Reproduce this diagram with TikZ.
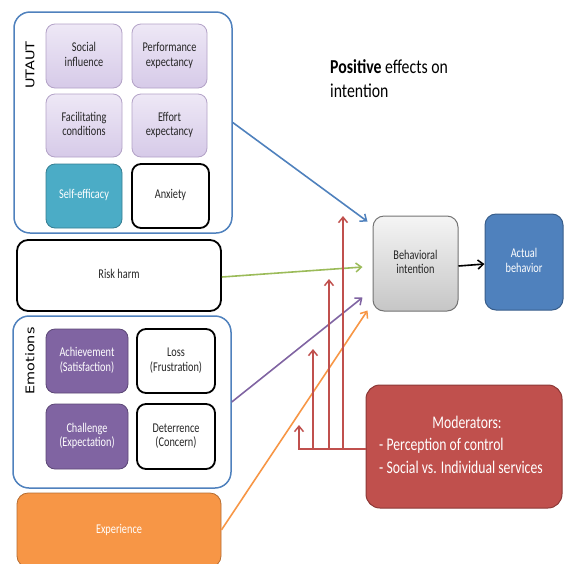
\documentclass[tikz,border=0pt]{standalone}
\usepackage{fontspec}
\usepackage{graphicx}
\setmainfont{Carlito}
\newfontfamily\labelfont{DejaVu Sans}
\usetikzlibrary{arrows.meta,calc}

% Office-style palette
\definecolor{offblue}{HTML}{4F81BD}
\definecolor{offblueline}{HTML}{385D8A}
\definecolor{lavtop}{HTML}{EEE8F6}
\definecolor{lavbot}{HTML}{D6CAE8}
\definecolor{lavline}{HTML}{B3A2C7}
\definecolor{teal}{HTML}{4BACC6}
\definecolor{tealline}{HTML}{357D91}
\definecolor{violet}{HTML}{8064A2}
\definecolor{violetline}{HTML}{5C4776}
\definecolor{offorange}{HTML}{F79646}
\definecolor{offorangeline}{HTML}{B66D31}
\definecolor{offred}{HTML}{C0504D}
\definecolor{offredline}{HTML}{8C3836}
\definecolor{offgreen}{HTML}{9BBB59}
\definecolor{txtgray}{HTML}{262626}

% vertically stretched multi-line text
\newcommand{\tallcell}[2][11.5]{\scalebox{1}[1.3]{\fontsize{10.3}{#1}\selectfont\begin{tabular}{@{}c@{}}#2\end{tabular}}}

\tikzset{
  group/.style={draw=offblue, line width=1.5pt, rounded corners=16pt, fill=white},
  cell/.style={rounded corners=9pt, inner sep=0pt, align=center},
  soft/.style={cell, draw=lavline, line width=0.8pt, top color=lavtop, bottom color=lavbot, text=txtgray},
  plain/.style={cell, draw=black, line width=1.8pt, fill=white, text=txtgray},
  wide/.style={cell, rounded corners=11pt},
  flow/.style={line width=1.6pt, -{Straight Barb[length=5.5pt,width=9pt,line width=1.5pt]}},
  grouplabel/.style={font=\labelfont\fontsize{12}{14}\selectfont, rotate=90, inner sep=0pt}
}

\begin{document}
\begin{tikzpicture}[x=1pt,y=-1pt]
\useasboundingbox (0,0) rectangle (564,563);

% UTAUT group
\node[group, minimum width=218pt, minimum height=221pt] (utaut) at (123,122.5) {};
\node[grouplabel] (utautlbl) at (30,65) {\scalebox{1.2}[1]{UTAUT}};
\node[soft, minimum width=76pt, minimum height=64pt] (si) at (84,56) {\tallcell{Social\\influence}};
\node[soft, minimum width=75pt, minimum height=64pt] (pe) at (169.5,56) {\tallcell{Performance\\expectancy}};
\node[soft, minimum width=76pt, minimum height=63pt] (fc) at (84,125.5) {\tallcell{Facilitating\\conditions}};
\node[soft, minimum width=75pt, minimum height=63pt] (ee) at (169.5,125.5) {\tallcell{Effort\\expectancy}};
\node[cell, draw=tealline, line width=0.8pt, fill=teal, text=white, minimum width=76pt, minimum height=64pt] (se) at (84,196) {\tallcell{Self-efficacy}};
\node[plain, minimum width=77pt, minimum height=64pt] (anx) at (170.5,196) {\tallcell{Anxiety}};

% Risk harm
\node[plain, wide, minimum width=204pt, minimum height=71pt] (risk) at (119,275.5) {\tallcell{Risk harm}};

% Emotions group
\node[group, minimum width=218pt, minimum height=172pt] (emo) at (122,402) {};
\node[grouplabel] (emolbl) at (30,361) {\scalebox{1.2}[1]{Emotions}};
\node[cell, draw=violetline, line width=0.8pt, fill=violet, text=white, minimum width=82pt, minimum height=64pt] (ach) at (87,361) {\tallcell{Achievement\\(Satisfaction)}};
\node[plain, minimum width=78pt, minimum height=64pt] (loss) at (176,361) {\tallcell{Loss\\(Frustration)}};
\node[cell, draw=violetline, line width=0.8pt, fill=violet, text=white, minimum width=82pt, minimum height=65pt] (chal) at (87,436.5) {\tallcell{Challenge\\(Expectation)}};
\node[plain, minimum width=78pt, minimum height=65pt] (det) at (176,436.5) {\tallcell{Deterrence\\(Concern)}};

% Experience
\node[wide, draw=offorangeline, line width=0.8pt, fill=offorange, text=white, minimum width=204pt, minimum height=74pt] (exp) at (119,530) {\tallcell{Experience}};

% Intention and behavior
\node[wide, draw=gray!90!black, line width=1pt, top color=gray!8, bottom color=gray!45, text=txtgray, minimum width=85pt, minimum height=95pt] (bi) at (415.5,263.5) {\tallcell{Behavioral\\intention}};
\node[wide, draw=offblueline, line width=1pt, fill=offblue, text=white, minimum width=78pt, minimum height=96pt] (ab) at (524,262) {\tallcell{Actual\\behavior}};

% Moderators
\node[cell, rounded corners=14pt, draw=offredline, line width=1pt, fill=offred, text=white, minimum width=196pt, minimum height=123pt] (mod) at (464,446.5)
  {\hspace*{-6pt}\scalebox{1}[1.3]{\fontsize{13.7}{17}\selectfont\begin{tabular}{@{}l@{}}\multicolumn{1}{@{}c@{}}{\hspace*{12pt}Moderators:}\\- Perception of control\\- Social vs. Individual services\end{tabular}}};

% Heading
\node[anchor=north west, inner sep=0pt, align=left] (head) at (330,56)
  {\scalebox{1}[1.25]{\fontsize{15.8}{19.5}\selectfont\begin{tabular}{@{}l@{}}\textbf{Positive} effects on\\intention\end{tabular}}};

% Arrow end points near the intention box
\coordinate (toblue)   at ($(bi.north west)+(-5,6)$);
\coordinate (togreen)  at ($(bi.west)+(-10,3.5)$);
\coordinate (topurple) at ($(bi.south west)+(-10,-14)$);
\coordinate (toorange) at ($(bi.south west)+(-5,-1)$);

\draw[flow, offblue]   (utaut.east) -- (toblue);
\draw[flow, offgreen]  ($(risk.east)+(0,1.5)$) -- (togreen);
\draw[flow, violet]    (emo.east) -- (topurple);
\draw[flow, offorange] (exp.east) -- (toorange);

\draw[flow, black] ($(bi.east)+(0,2.5)$) -- ($(ab.west)+(0,2)$);

% Moderator lines
\coordinate (modin) at ($(mod.west)+(0,2.5)$);
\coordinate (m1) at (299,425);
\coordinate (m2) at (313,349);
\coordinate (m3) at (329,279);
\coordinate (m4) at (343,216);
\draw[flow, offred] (modin) -| (m1);
\draw[flow, offred] (m2 |- modin) -- (m2);
\draw[flow, offred] (m3 |- modin) -- (m3);
\draw[flow, offred] (m4 |- modin) -- (m4);

\end{tikzpicture}
\end{document}
